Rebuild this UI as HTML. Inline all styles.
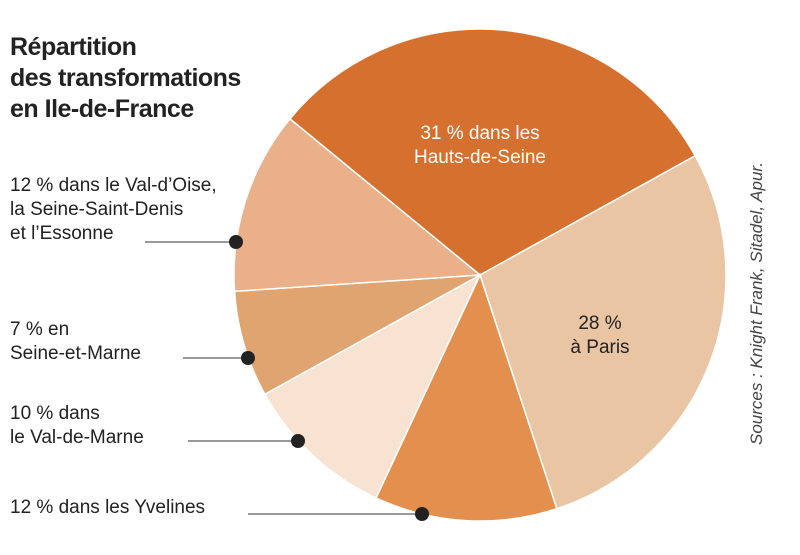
<!DOCTYPE html>
<html><head><meta charset="utf-8"><style>
body{margin:0;background:#fff;}
#c{position:relative;width:800px;height:555px;font-family:"Liberation Sans",sans-serif;color:#222;}
.t{position:absolute;font-size:19px;line-height:24px;}
</style></head><body>
<div id="c">
<svg id="s" width="800" height="555" style="position:absolute;left:0;top:0"></svg>
<div class="t" style="left:10px;top:32px;font-size:25px;line-height:31px;font-weight:bold;letter-spacing:-0.5px">Répartition<br>des transformations<br>en Ile-de-France</div>
<div class="t" style="left:10px;top:174px">12 % dans le Val-d’Oise,<br>la Seine-Saint-Denis<br>et l’Essonne</div>
<div class="t" style="left:10px;top:318px">7 % en<br>Seine-et-Marne</div>
<div class="t" style="left:10px;top:402px">10 % dans<br>le Val-de-Marne</div>
<div class="t" style="left:10px;top:496px">12 % dans les Yvelines</div>
<div class="t" style="left:410px;top:122px;width:140px;text-align:center;color:#fff">31 % dans les<br>Hauts-de-Seine</div>
<div class="t" style="left:560px;top:312px;width:80px;text-align:center">28 %<br>à Paris</div>
<div class="t" style="left:745px;top:445px;font-size:17px;font-style:italic;color:#444;transform:rotate(-90deg);transform-origin:0 0;white-space:nowrap">Sources : Knight Frank, Sitadel, Apur.</div>
</div>
<script>
const categories=["Hauts-de-Seine","Paris","Yvelines","Val-de-Marne","Seine-et-Marne","Val-d'Oise"];
const values=[31,28,12,10,7,12];
const colors=["#d6702f","#eac5a4","#e3904f","#f8e3d2","#e0a470","#e9b08a"];
const cx=480,cy=275,r=246,start=-50.6;
const s=document.getElementById('s');
const NS="http://www.w3.org/2000/svg";
const total=values.reduce((a,b)=>a+b,0);
function pt(a,rr){const t=a*Math.PI/180;return [cx+rr*Math.sin(t),cy-rr*Math.cos(t)];}
let a=start;
values.forEach((v,i)=>{
 const sw=v/total*360;const p1=pt(a,r),p2=pt(a+sw,r);
 const p=document.createElementNS(NS,'path');
 p.setAttribute('d',`M${cx},${cy}L${p1[0]},${p1[1]}A${r},${r} 0 ${sw>180?1:0} 1 ${p2[0]},${p2[1]}Z`);
 p.setAttribute('fill',colors[i]);p.setAttribute('stroke','#fff');p.setAttribute('stroke-width','1.5');
 
 
 s.appendChild(p);a+=sw;
});
const leaders=[[145,242,236,242],[183,358,248,358],[188,441,298,441],[248,514,422,514]];
leaders.forEach((l,i)=>{
 const ln=document.createElementNS(NS,'line');
 ln.setAttribute('x1',l[0]);ln.setAttribute('y1',l[1]);ln.setAttribute('x2',l[2]);ln.setAttribute('y2',l[3]);
 ln.setAttribute('stroke','#333');ln.setAttribute('stroke-width','1');
 
 
 s.appendChild(ln);
 const c=document.createElementNS(NS,'circle');
 c.setAttribute('cx',l[2]);c.setAttribute('cy',l[3]);c.setAttribute('r','7');c.setAttribute('fill','#222');
 
 
 s.appendChild(c);
});
</script>
</body></html>
